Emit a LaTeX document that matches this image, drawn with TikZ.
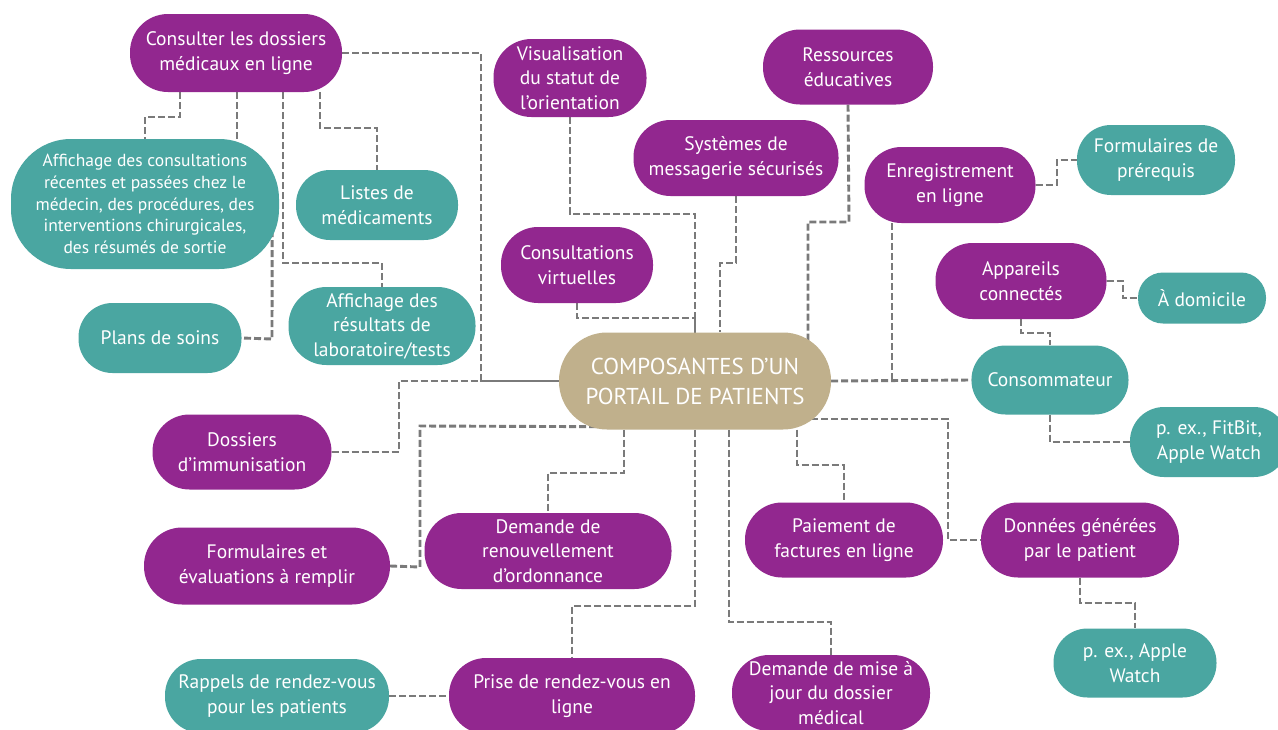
\documentclass[tikz,border=0pt]{standalone}
\usepackage{fontspec}
\setmainfont{PT Sans}
\usetikzlibrary{backgrounds}
\definecolor{purp}{RGB}{146,39,143}
\definecolor{tealc}{RGB}{74,166,161}
\definecolor{tanc}{RGB}{192,176,140}
\definecolor{linec}{RGB}{122,122,122}
\newcommand\nfont{\fontsize{19.5}{24.5}\selectfont}
\newcommand\sfont{\fontsize{17.5}{21.8}\selectfont}
\newcommand\cfont{\fontsize{23}{30}\selectfont}
\tikzset{
  pill/.style={rectangle, inner sep=0pt, align=center, text=white, font=\nfont},
  pur/.style={pill, fill=purp},
  tea/.style={pill, fill=tealc},
  con/.style={draw=linec, line width=2.9pt, dash pattern=on 7pt off 3pt},
}
\begin{document}
\begin{tikzpicture}[x=1pt,y=-1pt]
\useasboundingbox (0,0) rectangle (1278,729);

% nodes
\node[pur, minimum width=212, minimum height=78, rounded corners=38] (consult) at (236,53) {Consulter les dossiers\\médicaux en ligne};
\node[tea, minimum width=268, minimum height=130, rounded corners=60, font=\sfont] (affcons) at (145,204) {Affichage des consultations\\récentes et passées chez le\\médecin, des procédures, des\\interventions chirurgicales,\\des résumés de sortie};
\node[tea, minimum width=162, minimum height=70, rounded corners=34] (listes) at (377,205) {Listes de\\médicaments};
\node[tea, minimum width=163, minimum height=70, rounded corners=34] (plans) at (160,338) {Plans de soins};
\node[tea, minimum width=187, minimum height=78, rounded corners=38] (affres) at (382,326) {Affichage des\\résultats de\\laboratoire/tests};
\node[pur, minimum width=153, minimum height=78, rounded corners=38] (visu) at (570,78) {Visualisation\\du statut de\\l’orientation};
\node[pur, minimum width=170, minimum height=75, rounded corners=37] (ress) at (848,67) {Ressources\\éducatives};
\node[pur, minimum width=205, minimum height=76, rounded corners=37] (sys) at (736,158) {Systèmes de\\messagerie sécurisés};
\node[pur, minimum width=152, minimum height=76, rounded corners=37] (cvirt) at (577,265) {Consultations\\virtuelles};
\node[pur, minimum width=171, minimum height=76, rounded corners=37] (enreg) at (950,185) {Enregistrement\\en ligne};
\node[tea, minimum width=158, minimum height=70, rounded corners=34] (prereq) at (1156,160) {Formulaires de\\prérequis};
\node[pur, minimum width=171, minimum height=76, rounded corners=37] (app) at (1021,281) {Appareils\\connectés};
\node[tea, minimum width=128, minimum height=51, rounded corners=25] (dom) at (1202,298) {À domicile};
\node[tea, minimum width=157, minimum height=69, rounded corners=34] (conso) at (1050,380) {Consommateur};
\node[tea, minimum width=158, minimum height=70, rounded corners=34] (fitbit) at (1209,442) {p. ex., FitBit,\\Apple Watch};
\node[pill, fill=tanc, minimum width=272, minimum height=97, rounded corners=48, font=\cfont] (cen) at (695,381) {COMPOSANTES D’UN\\PORTAIL DE PATIENTS};
\node[pur, minimum width=179, minimum height=75, rounded corners=37] (imm) at (242,452) {Dossiers\\d’immunisation};
\node[pur, minimum width=246, minimum height=77, rounded corners=38] (formet) at (267,566) {Formulaires et\\évaluations à remplir};
\node[pur, minimum width=247, minimum height=76, rounded corners=37] (renouv) at (548,551) {Demande de\\renouvellement\\d’ordonnance};
\node[tea, minimum width=224, minimum height=74, rounded corners=36] (rappel) at (277,696) {Rappels de rendez-vous\\pour les patients};
\node[pur, minimum width=246, minimum height=76, rounded corners=37] (prise) at (572,696) {Prise de rendez-vous en\\ligne};
\node[pur, minimum width=198, minimum height=75, rounded corners=37] (paie) at (844,540) {Paiement de\\factures en ligne};
\node[pur, minimum width=198, minimum height=75, rounded corners=37] (donnees) at (1080,540) {Données générées\\par le patient};
\node[tea, minimum width=163, minimum height=69, rounded corners=34] (applew) at (1135,663) {p. ex., Apple\\Watch};
\node[pur, minimum width=198, minimum height=76, rounded corners=37] (mise) at (831,693) {Demande de mise à\\jour du dossier\\médical};
\coordinate (j1) at (892,381);

% connectors
\begin{scope}[on background layer]
\fill[white] (0,0) rectangle (1278,729);
\draw[con] (consult.east) -- (481,53) -- (481,381) -- (cen.west);
\draw[con] (imm.east) -- (399,452) -- (399,381) -- (cen.west);
\draw[con] (formet.east) -- (420,567) -- (420,426) -- ([xshift=-90pt,yshift=3pt]cen.south);
\draw[con] (visu.south) -- (570,214) -| (cen.north);
\draw[con] (cvirt.south) -- (577,318) -| (cen.north);
\draw[con] (sys.south) -- (736,263) -- (720,263) -- ([xshift=25pt]cen.north);
\draw[con] (ress.south) -- (849,222) -- (808,222) -- ([xshift=113pt,yshift=-12pt]cen.north);
\draw[con] (cen.east) -- (conso.west);
\draw[con] ([xshift=-58pt]enreg.south) -- (j1);
\draw[con] (enreg.east) -- (1057,185) -- (1057,160) -- (prereq.west);
\draw[con] (app.east) -- (1123,281) -- (1123,298) -- (dom.west);
\draw[con] (app.south) -- (1021,333) -- (1050,333) -- (conso.north);
\draw[con] (conso.south) -- (1050,442) -- (fitbit.west);
\draw[con] ([xshift=-30pt,yshift=-38pt]cen.east) -- (948,419) -- (948,540) -- (donnees.west);
\draw[con] ([xshift=102pt]cen.south) -- (797,465) -- (844,465) -- (paie.north);
\draw[con] ([xshift=34pt]cen.south) -- (729,622) -- (831,622) -- (mise.north);
\draw[con] (cen.south) -- (695,606) -- (572,606) -- (prise.north);
\draw[con] ([xshift=-71pt]cen.south) -- (624,473) -- (548,473) -- (renouv.north);
\draw[con] (rappel.east) -- (prise.west);
\draw[con] (donnees.south) -- (1080,603) -- (1135,603) -- (applew.north);
\draw[con] ([xshift=-56pt]consult.south) -- (180,117) -- (145,117) -- (affcons.north);
\draw[con] ([xshift=1pt]consult.south) -- ([xshift=92pt,yshift=-8pt]affcons.north);
\draw[con] ([xshift=47pt]consult.south) -- (283,263) -- (382,263) -- (affres.north);
\draw[con] ([xshift=84pt]consult.south) -- (320,128) -- (377,128) -- (listes.north);
\draw[con] ([xshift=-7pt,yshift=-16pt]affcons.east) -- (272,339) -- (plans.east);
\end{scope}
\end{tikzpicture}
\end{document}
